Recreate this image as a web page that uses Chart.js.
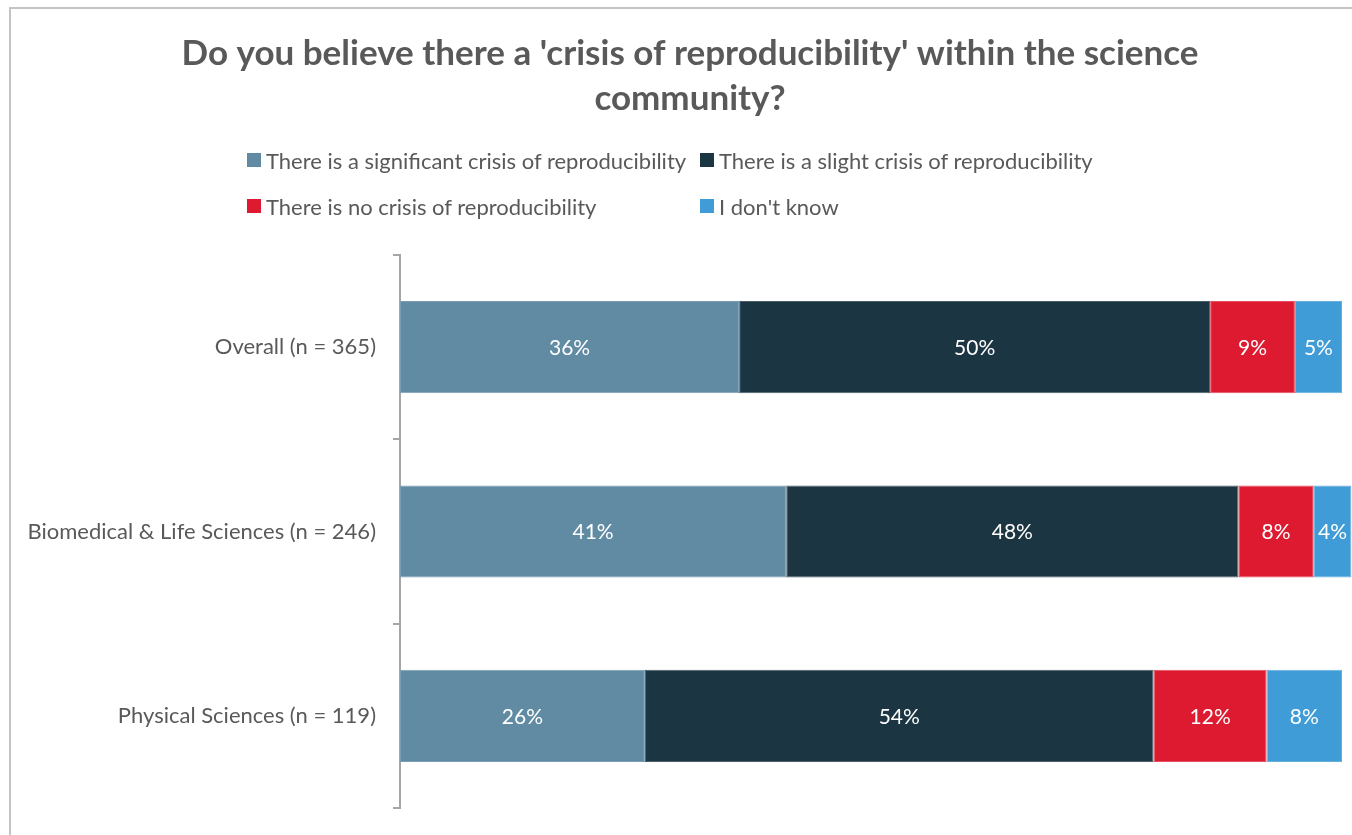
<!DOCTYPE html>
<html>
<head>
<meta charset="utf-8">
<title>Crisis of reproducibility</title>
<script src="https://cdn.jsdelivr.net/npm/chart.js@4.4.1/dist/chart.umd.min.js"></script>
<style>
  html, body { margin: 0; padding: 0; background: #ffffff; overflow: hidden; }
  #wrap { position: relative; width: 1352px; height: 835px; overflow: hidden; }
  #frame {
    position: absolute; left: 9px; top: 7px; width: 1400px; height: 900px;
    border-left: 2px solid #c4c4c4; border-top: 2px solid #c4c4c4; box-sizing: border-box;
  }
  #chart { position: absolute; left: 0; top: 0; }
  #legend { position: absolute; left: 0; top: 0; font-family: Lato, sans-serif; font-size: 22px; color: #595959; }
  .item { position: absolute; display: flex; align-items: center; white-space: nowrap; height: 26px; }
  .box { width: 14px; height: 14px; margin-right: 5px; }
</style>
</head>
<body>
<div id="wrap">
  <div id="frame"></div>
  <canvas id="chart" width="1380" height="835"></canvas>
  <div id="legend"></div>
</div>
<script>
// Survey groups (top to bottom)
const categories = [
  'Overall (n = 365)',
  'Biomedical & Life Sciences (n = 246)',
  'Physical Sciences (n = 119)'
];

// Share of respondents per answer, in percent
const significantCrisis = [36, 41, 26];
const slightCrisis      = [50, 48, 54];
const noCrisis          = [9, 8, 12];
const dontKnow          = [5, 4, 8];

const seriesNames = [
  'There is a significant crisis of reproducibility',
  'There is a slight crisis of reproducibility',
  'There is no crisis of reproducibility',
  "I don't know"
];
const seriesColors = ['#618aa3', '#1b3542', '#dd1a30', '#3f9cd7'];
const seriesEdges  = ['#7a9db3', '#4a5f69', '#e4505f', '#66b0e0'];

const titleLines = [
  "Do you believe there a 'crisis of reproducibility' within the science",
  'community?'
];

const seriesValues = [significantCrisis, slightCrisis, noCrisis, dontKnow];

// Percent labels centred inside each segment
const segmentLabels = {
  id: 'segmentLabels',
  afterDatasetsDraw(chart) {
    const ctx = chart.ctx;
    ctx.save();
    ctx.font = '21px Lato, sans-serif';
    ctx.fillStyle = '#ffffff';
    ctx.textAlign = 'center';
    ctx.textBaseline = 'middle';
    chart.data.datasets.forEach((ds, i) => {
      const meta = chart.getDatasetMeta(i);
      meta.data.forEach((bar, j) => {
        const c = bar.getCenterPoint();
        ctx.fillText(ds.data[j] + '%', c.x, c.y + 1);
      });
    });
    ctx.restore();
  }
};

const chart = new Chart(document.getElementById('chart'), {
  type: 'bar',
  data: {
    labels: categories,
    datasets: seriesValues.map((vals, i) => ({
      label: seriesNames[i],
      data: vals,
      backgroundColor: seriesColors[i],
      borderColor: seriesEdges[i],
      borderWidth: 1,
      borderSkipped: false,
      categoryPercentage: 1,
      barPercentage: 0.5,
      clip: false
    }))
  },
  options: {
    indexAxis: 'y',
    responsive: false,
    animation: false,
    layout: { padding: { left: 0, right: 0, top: 0, bottom: 27 } },
    plugins: {
      legend: { display: false },
      tooltip: { enabled: false },
      title: {
        display: true,
        text: titleLines,
        color: '#595959',
        font: { family: 'Lato, sans-serif', size: 35, weight: 'bold', lineHeight: 1.286 },
        padding: { top: 31, bottom: 134 }
      }
    },
    scales: {
      x: { display: false, stacked: true, min: 0, max: 100 },
      y: {
        stacked: true,
        afterFit(scale) {
          scale.width = 400;
          scale.paddingTop = 0;
          scale.paddingBottom = 0;
        },
        grid: {
          offset: true,
          drawOnChartArea: false,
          drawTicks: true,
          tickLength: 7,
          color: '#a6a6a6',
          lineWidth: 2
        },
        border: { display: true, color: '#a6a6a6', width: 2 },
        ticks: {
          color: '#595959',
          padding: 17,
          font: { family: 'Lato, sans-serif', size: 22 }
        }
      },
      // empty right-hand margin column beside the plot area
      gutter: {
        type: 'linear',
        axis: 'y',
        position: 'right',
        grid: { display: false },
        border: { display: false },
        ticks: { display: false },
        afterFit(scale) {
          scale.width = 38;
          scale.paddingTop = 0;
          scale.paddingBottom = 0;
        }
      }
    }
  },
  plugins: [segmentLabels]
});

// Two-column legend built from the chart's datasets
const legendPos = [
  { left: 247, top: 147 }, { left: 700, top: 147 },
  { left: 247, top: 193 }, { left: 700, top: 193 }
];
const legendEl = document.getElementById('legend');
chart.data.datasets.forEach((ds, i) => {
  const item = document.createElement('div');
  item.className = 'item';
  item.style.left = legendPos[i].left + 'px';
  item.style.top = legendPos[i].top + 'px';
  const box = document.createElement('span');
  box.className = 'box';
  box.style.background = ds.backgroundColor;
  const txt = document.createElement('span');
  txt.textContent = ds.label;
  item.appendChild(box);
  item.appendChild(txt);
  legendEl.appendChild(item);
});
</script>
</body>
</html>
